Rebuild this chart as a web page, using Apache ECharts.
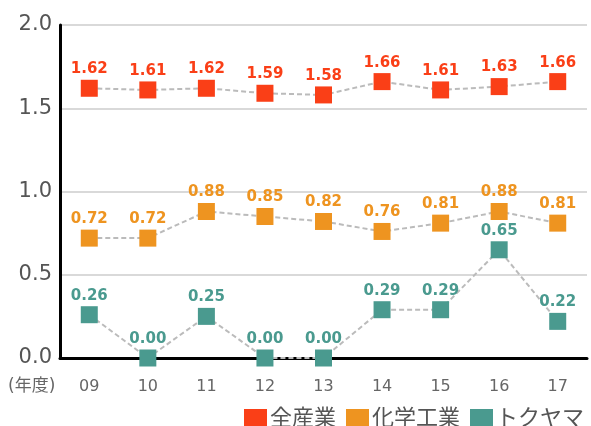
<!DOCTYPE html>
<html>
<head>
<meta charset="utf-8">
<script src="https://cdn.jsdelivr.net/npm/echarts@6/dist/echarts.min.js"></script>
<style>html,body{margin:0;padding:0;background:#fff}#c{width:591px;height:426px}</style>
</head>
<body>
<div id="c"></div>
<script>
var categories = ['09','10','11','12','13','14','15','16','17'];
var allIndustry = [1.62,1.61,1.62,1.59,1.58,1.66,1.61,1.63,1.66];
var chemical = [0.72,0.72,0.88,0.85,0.82,0.76,0.81,0.88,0.81];
var tokuyama = [0.26,0.00,0.25,0.00,0.00,0.29,0.29,0.65,0.22];
var seriesNames = ['全産業','化学工業','トクヤマ'];
var colors = ['#FA3F17','#EE9420','#4A9A8F'];
var yTicks = [0, 0.5, 1.0, 1.5, 2.0];

var FONT = '"DejaVu Sans", "Noto Sans CJK JP", sans-serif';
function mk(name, data, color) {
  return {
    name: name, type: 'line', data: data,
    symbol: 'rect', symbolSize: 17,
    itemStyle: { color: color },
    lineStyle: { color: '#BBBBBB', width: 2, type: [5, 3] },
    label: {
      show: true, position: 'top', distance: 3,
      color: color, fontWeight: 'bold', fontSize: 15, fontFamily: FONT,
      formatter: function (p) { return p.value.toFixed(2); }
    },
    emphasis: { disabled: true },
    animation: false
  };
}
var chart = echarts.init(document.getElementById('c'));
chart.setOption({
  animation: false,
  grid: { left: 60, right: 4, top: 25, bottom: 68 },
  xAxis: {
    type: 'category', data: categories, boundaryGap: true,
    axisLine: { lineStyle: { color: '#000', width: 3 } },
    axisTick: { show: false },
    axisLabel: { color: '#666', fontSize: 16, fontFamily: FONT, margin: 21 }
  },
  yAxis: {
    type: 'value', min: yTicks[0], max: yTicks[yTicks.length - 1], interval: 0.5,
    axisLine: { show: true, lineStyle: { color: '#000', width: 3 } },
    axisTick: { show: false },
    splitLine: { lineStyle: { color: '#CCCCCC', width: 1.5 } },
    axisLabel: { color: '#555', fontSize: 21, fontFamily: FONT, margin: 8,
      formatter: function (v) { return v.toFixed(1); } }
  },
  legend: {
    data: seriesNames, right: 2, top: 403,
    icon: 'rect', itemWidth: 23, itemHeight: 20, itemGap: 10,
    textStyle: { fontSize: 22, color: '#555', fontFamily: FONT, padding: [0, 0, 0, -2] }
  },
  graphic: [{
    type: 'text', left: 8, top: 378,
    style: { text: '(年度)', fontSize: 17, fill: '#666', fontFamily: FONT }
  }],
  series: [
    mk(seriesNames[0], allIndustry, colors[0]),
    mk(seriesNames[1], chemical, colors[1]),
    mk(seriesNames[2], tokuyama, colors[2])
  ]
});
</script>
</body>
</html>
